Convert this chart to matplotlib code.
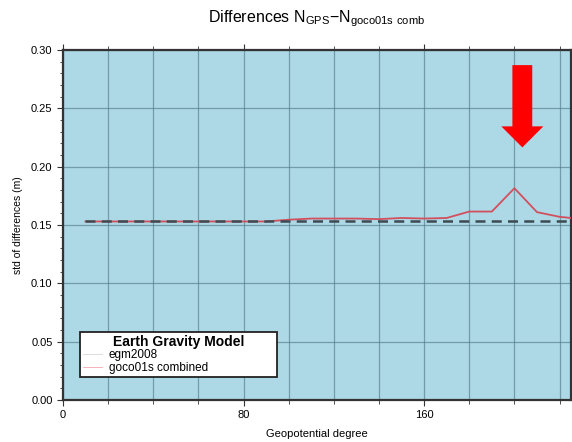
import matplotlib
matplotlib.use("Agg")
import matplotlib.pyplot as plt
from matplotlib.lines import Line2D
from matplotlib.ticker import MultipleLocator

plt.rcParams['font.family'] = ['Liberation Sans', 'DejaVu Sans']
plt.rcParams['mathtext.fontset'] = 'custom'
plt.rcParams['mathtext.rm'] = 'Liberation Sans'

# grado geopotencial y desviaciones (m)
grado = [10, 20, 30, 40, 50, 60, 70, 80, 90, 100, 110, 120, 130, 140, 150,
         160, 170, 180, 190, 200, 210, 220, 230]
goco01s = [0.153, 0.153, 0.153, 0.153, 0.153, 0.153, 0.153, 0.153, 0.153,
           0.1545, 0.1555, 0.1555, 0.1555, 0.155, 0.156, 0.1555, 0.156,
           0.1615, 0.1615, 0.1815, 0.161, 0.157, 0.155]
grado_egm = [10, 230]
egm2008 = [0.153, 0.153]

fig = plt.figure(figsize=(5.72, 4.42), dpi=100)
ax = fig.add_axes([0.110, 0.095, 0.888, 0.792])
ax.set_facecolor('#add8e6')

ax.plot(grado, goco01s, color='#d2505e', lw=1.3, zorder=3)
ax.plot(grado_egm, egm2008, color='#3e4a52', lw=1.8, ls=(0, (4, 2.5)), zorder=4)

ax.set_xlim(0, 225)
ax.set_ylim(0, 0.30)

ax.xaxis.set_major_locator(MultipleLocator(80))
ax.xaxis.set_minor_locator(MultipleLocator(20))
ax.yaxis.set_major_locator(MultipleLocator(0.05))
ax.yaxis.set_minor_locator(MultipleLocator(0.01))
ax.yaxis.set_major_formatter(matplotlib.ticker.FormatStrFormatter('%.2f'))

ax.grid(True, which='both', axis='x', color='#4f7380', lw=0.9, alpha=0.6)
ax.grid(True, which='major', axis='y', color='#4f7380', lw=0.9, alpha=0.6)
ax.set_axisbelow(True)

ax.tick_params(which='both', direction='out', labelsize=8, top=True, color='#333333')
ax.tick_params(which='major', length=4)
ax.tick_params(which='minor', length=2.5)
ax.tick_params(axis='x', which='minor', length=3)
for s in ax.spines.values():
    s.set_linewidth(1.6)
    s.set_color('#333333')

ax.set_xlabel('Geopotential degree', fontsize=8, labelpad=6)
ax.set_ylabel('std of differences (m)', fontsize=7.5, labelpad=6)
ax.set_title(r'Differences N$_{\rm GPS}$$-$N$_{\rm goco01s\ comb}$', fontsize=11.5, pad=20)

# flecha roja señalando el pico
ax.arrow(203.5, 0.287, 0, -0.0705, width=8.8, head_width=18.6, head_length=0.018,
         length_includes_head=True, color='#ff0000', ec='none', zorder=5)

handles = [Line2D([], [], color='#d8d8d8', lw=0.6),
           Line2D([], [], color='#f4a6b0', lw=0.6)]
leg = ax.legend(handles, ['egm2008', 'goco01s combined'], title='Earth Gravity Model',
                loc='lower left', bbox_to_anchor=(0.033, 0.066, 0.388, 0.13), mode='expand',
                fontsize=8.5, title_fontproperties={'weight': 'bold', 'size': 10},
                fancybox=False, framealpha=1, edgecolor='#222222',
                handlelength=1.6, handletextpad=0.6, borderpad=0.25, labelspacing=0.05,
                borderaxespad=0)
leg.get_frame().set_linewidth(1.3)

fig.savefig('out.png', dpi=100)
